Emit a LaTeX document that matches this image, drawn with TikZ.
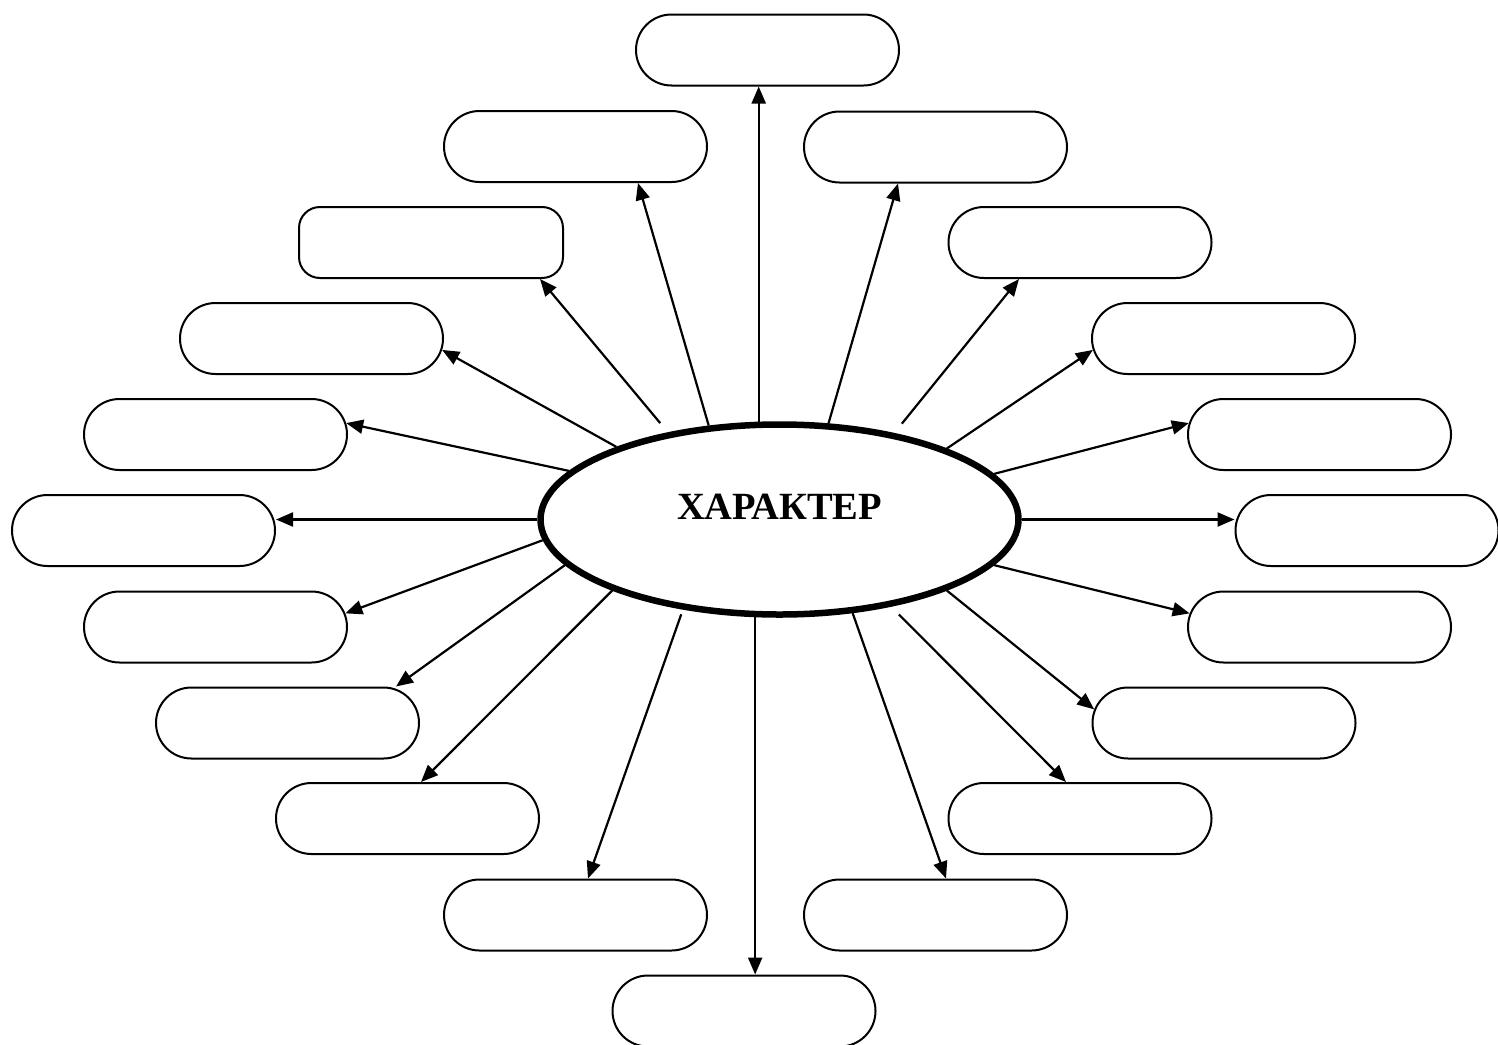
\documentclass[tikz,border=0pt]{standalone}
\usepackage{fontspec}
\setmainfont{Liberation Serif}
\usetikzlibrary{arrows.meta,calc,shapes.geometric,shapes.misc}
\begin{document}
\begin{tikzpicture}[x=1pt,y=-1pt,
  pill/.style={rounded rectangle,draw,line width=2pt,minimum width=263pt,minimum height=71pt,inner sep=0pt},
  flatpill/.style={rectangle,draw,line width=2pt,rounded corners=21pt,minimum width=264pt,minimum height=71pt,inner sep=0pt},
  arr/.style={line width=2.2pt,-{Triangle[length=17pt,width=14pt]}}]
\useasboundingbox (0,0) rectangle (1498,1044);
\node[ellipse,draw,line width=6.5pt,minimum width=478pt,minimum height=190pt,inner sep=0pt,
  text height=12pt,text depth=12pt,font=\bfseries\fontsize{38.5}{42}\selectfont] (c) at (779.5,519.5) {ХАРАКТЕР};
\node[pill] (b1) at (767.5,50) {};
\node[pill] (b2) at (575.5,146.5) {};
\node[pill] (b3) at (935.5,147) {};
\node[flatpill] (b4) at (431,242.5) {};
\node[pill] (b5) at (1080,242.5) {};
\node[pill] (b6) at (311.5,338.5) {};
\node[pill] (b7) at (1223.5,338.5) {};
\node[pill] (b8) at (215.5,434.5) {};
\node[pill] (b9) at (1319.5,434.5) {};
\node[pill] (b10) at (143.5,530.5) {};
\node[pill] (b11) at (1367,530.5) {};
\node[pill] (b12) at (215.5,627) {};
\node[pill] (b13) at (1319.5,627) {};
\node[pill] (b14) at (287.5,723) {};
\node[pill] (b15) at (1224,723) {};
\node[pill] (b16) at (407.5,818.5) {};
\node[pill] (b17) at (1080,818.5) {};
\node[pill] (b18) at (575.5,915) {};
\node[pill] (b19) at (935.5,915) {};
\node[pill] (b20) at (744,1011) {};
\draw[arr] (c.102.9) -- (c.102.9 |- b1.south);
\draw[arr] (c.127) -- ($(b2.south)+(62.5,0)$);
\draw[arr] (c.63.3) -- ($(b3.south)+(-37.5,0)$);
\draw[arr,shorten <=12pt] (c.142) -- ($(b4.south)+(109,0)$);
\draw[arr,shorten <=12pt] (c.37.9) -- ($(b5.south)+(-61,0)$);
\draw[arr] (c.156.7) -- (b6.-5.8);
\draw[arr] (c.23.6) -- (b7.185.8);
\draw[arr] (c.167.9) -- (b8.5);
\draw[arr] (c.12.1) -- (b9.175);
\draw[arr] (c.west) -- (c.west -| b10.east);
\draw[arr] (c.east) -- (c.east -| b11.west);
\draw[arr] (c.185.6) -- (b12.6.1);
\draw[arr] (c.-12.4) -- (b13.174.8);
\draw[arr] (c.192.4) -- ($(b14.north)+(108.5,0)$);
\draw[arr] (c.-23.3) -- (b15.174.4);
\draw[arr] (c.203.4) -- ($(b16.north)+(13.5,0)$);
\draw[arr,shorten <=11pt] (c.-38.1) -- ($(b17.north)+(-14,0)$);
\draw[arr,shorten <=5pt] (c.223.8) -- ($(b18.north)+(12.5,0)$);
\draw[arr] (c.-52.4) -- ($(b19.north)+(10.5,0)$);
\draw[arr] (c.256.5) -- (c.256.5 |- b20.north);
\end{tikzpicture}
\end{document}
